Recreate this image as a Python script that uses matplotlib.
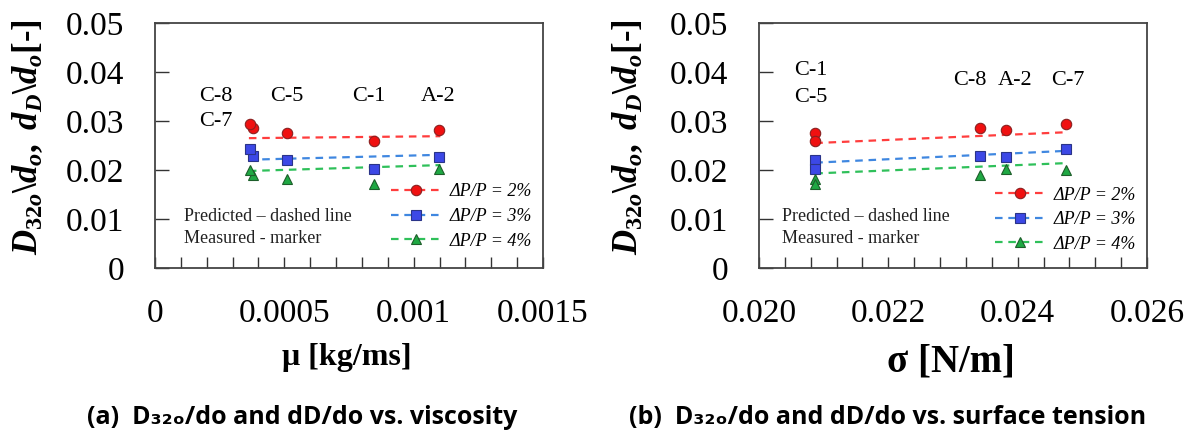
import numpy as np
import matplotlib
matplotlib.use('Agg')
import matplotlib.pyplot as plt
from matplotlib.ticker import MultipleLocator

plt.rcParams['font.family'] = 'Liberation Serif'
plt.rcParams['mathtext.fontset'] = 'custom'
plt.rcParams['mathtext.it'] = 'Liberation Serif:bold:italic'
plt.rcParams['mathtext.rm'] = 'Liberation Serif:bold'
plt.rcParams['mathtext.bf'] = 'Liberation Serif:bold'

# measured points, one per fluid
fluids = ['C-8', 'C-7', 'C-5', 'C-1', 'A-2']
viscosity = [0.000377, 0.000368, 0.000511, 0.000846, 0.001097]
tension = [0.02342, 0.02474, 0.02087, 0.02087, 0.02382]
meas_2 = [0.0286, 0.0294, 0.0276, 0.0260, 0.0282]
meas_3 = [0.0229, 0.0243, 0.0220, 0.0203, 0.0227]
meas_4 = [0.0190, 0.0200, 0.0181, 0.0172, 0.0202]

# predicted trend lines (end points)
visc_line_x = [0.000363, 0.001103]
visc_pred_2 = [0.0265, 0.0269]
visc_pred_3 = [0.0221, 0.0231]
visc_pred_4 = [0.0198, 0.0210]
tens_line_x = [0.02087, 0.02474]
tens_pred_2 = [0.0255, 0.0277]
tens_pred_3 = [0.0215, 0.0239]
tens_pred_4 = [0.0193, 0.0214]

labels = ['ΔP/P = 2%', 'ΔP/P = 3%', 'ΔP/P = 4%']
line_colors = ['#ff3d3d', '#3f87e0', '#2fc05a']
face_colors = ['#f01010', '#3c48e6', '#1fa843']
edge_colors = ['#8a2020', '#2a3488', '#1d5e2a']
markers = ['o', 's', '^']

# text labels over the point groups
visc_tags = [('C-8', 0.000234, 0.0349), ('C-7', 0.000234, 0.0298),
             ('C-5', 0.000511, 0.0349), ('C-1', 0.000825, 0.0349),
             ('A-2', 0.001096, 0.0349)]
tens_tags = [('C-1', 0.020808, 0.0403), ('C-5', 0.020808, 0.0347),
             ('C-8', 0.02326, 0.0383), ('A-2', 0.02396, 0.0383),
             ('C-7', 0.02477, 0.0383)]

fig = plt.figure(figsize=(11.94, 4.37), dpi=100)
W, H = 1194, 437
ax1 = fig.add_axes([155 / W, 1 - 268 / H, 388 / W, 245 / H])
ax2 = fig.add_axes([759 / W, 1 - 268 / H, 388 / W, 245 / H])


def draw(ax, xs, line_x, preds, tags, xlim, major, minor, fmt, note_x, leg_y):
    handles = []
    for i, (meas, pred) in enumerate(zip([meas_2, meas_3, meas_4], preds)):
        ln, = ax.plot(line_x, pred, color=line_colors[i], lw=1.6,
                      dashes=(3.4, 2.6), zorder=2)
        pts, = ax.plot(xs, meas, ls='none', marker=markers[i], ms=7.5,
                       mfc=face_colors[i], mec=edge_colors[i], mew=0.8,
                       zorder=3)
        handles.append((ln, pts))
    for name, tx, ty in tags:
        ax.text(tx, ty, name, ha='center', va='center', fontsize=16)
    ax.text(note_x, 0.0105, 'Predicted – dashed line', fontsize=13,
            va='center', color='#222222')
    ax.text(note_x, 0.0061, 'Measured - marker', fontsize=13,
            va='center', color='#222222')
    ax.legend(handles, labels, loc='lower right',
              bbox_to_anchor=(0.972, leg_y), frameon=False,
              borderpad=0, borderaxespad=0, handlelength=2.8,
              handletextpad=0.45, labelspacing=0.42,
              prop={'family': 'Liberation Serif', 'style': 'italic',
                    'size': 13})
    ax.set_xlim(*xlim)
    ax.set_ylim(0, 0.05)
    ax.xaxis.set_major_locator(MultipleLocator(major))
    ax.xaxis.set_minor_locator(MultipleLocator(minor))
    ax.yaxis.set_major_locator(MultipleLocator(0.01))
    ax.xaxis.set_major_formatter(fmt)
    ax.yaxis.set_major_formatter(lambda v, p: '0' if v == 0 else f'{v:.2f}')
    ax.tick_params(axis='x', which='both', direction='in', length=8,
                   width=1, pad=22, labelsize=24, color='#333333')
    ax.tick_params(axis='y', which='both', direction='in', length=10,
                   width=1, pad=22, labelsize=24, color='#333333')
    for s in ax.spines.values():
        s.set_color('#444444')
        s.set_linewidth(1.3)


def visc_fmt(v, p):
    if abs(v) < 1e-12:
        return '0'
    return ('%.4f' % v).rstrip('0')


draw(ax1, viscosity, visc_line_x, [visc_pred_2, visc_pred_3, visc_pred_4],
     visc_tags, (0, 0.0015), 0.0005, 0.0001, visc_fmt, 0.000111, 0.075)
draw(ax2, tension, tens_line_x, [tens_pred_2, tens_pred_3, tens_pred_4],
     tens_tags, (0.020, 0.026), 0.002, 0.0004,
     lambda v, p: f'{v:.3f}', 0.02036, 0.062)

ylab = r'$D_{\mathit{32o}}\backslash d_o,\ d_D\backslash d_o$[-]'
for x0 in (28, 628):
    fig.text(x0 / W, 1 - 137 / H, ylab, rotation=90, ha='center',
             va='center', fontsize=25, fontweight='bold')

fig.text(347 / W, 1 - 358 / H, 'μ [kg/ms]', ha='center', va='center',
         fontsize=23, fontweight='bold')
fig.text(951 / W, 1 - 362 / H, 'σ [N/m]', ha='center', va='center',
         fontsize=28, fontweight='bold')

cap_font = ['Open Sans', 'DejaVu Sans']
fig.text(302 / W, 1 - 418 / H, '(a)  D₃₂ₒ/do and dD/do vs. viscosity',
         ha='center', va='center', fontsize=18, fontweight='bold',
         family=cap_font)
fig.text(888 / W, 1 - 418 / H, '(b)  D₃₂ₒ/do and dD/do vs. surface tension',
         ha='center', va='center', fontsize=18, fontweight='bold',
         family=cap_font)

fig.savefig('out.png', dpi=100)
